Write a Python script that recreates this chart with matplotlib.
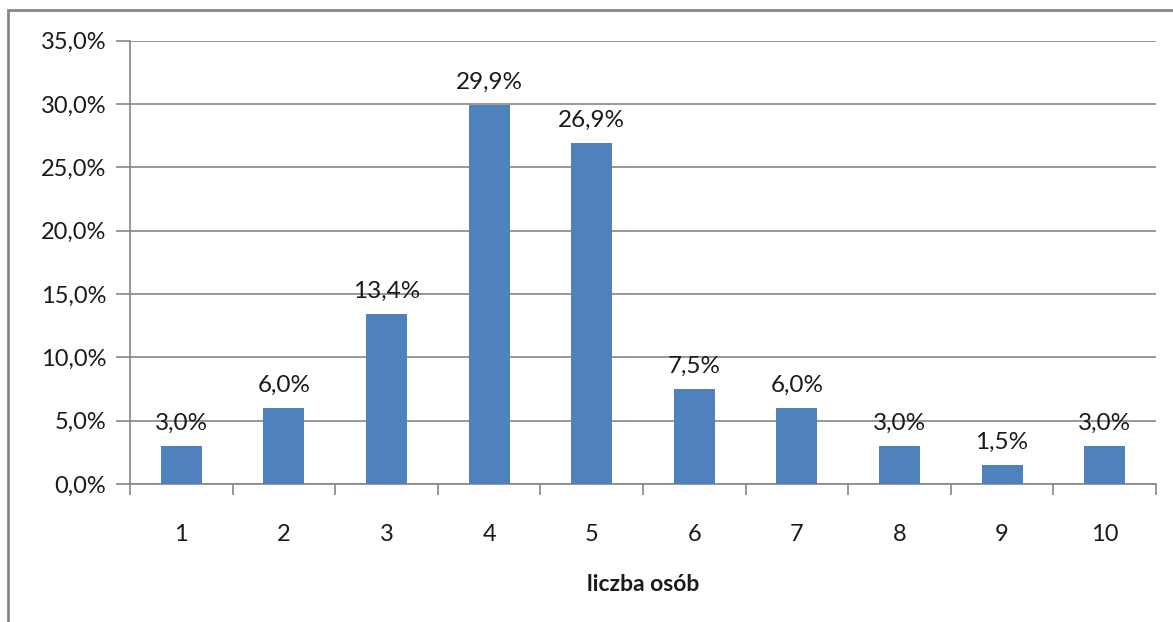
import matplotlib
matplotlib.use("Agg")
import matplotlib.pyplot as plt
from matplotlib.ticker import FuncFormatter, MultipleLocator, FixedLocator
from matplotlib.patches import Rectangle

categories = ['1', '2', '3', '4', '5', '6', '7', '8', '9', '10']
values = [3.0, 6.0, 13.4, 29.9, 26.9, 7.5, 6.0, 3.0, 1.5, 3.0]
xlabel = 'liczba osób'

plt.rcParams['font.family'] = ['Lato', 'DejaVu Sans']
grey = '#868686'
bar_color = '#4F81BD'
txt = '#1a1a1a'

fig = plt.figure(figsize=(11.73, 6.22), dpi=100)
ax = fig.add_axes([130 / 1173, 1 - 484 / 622, 1026 / 1173, 443.5 / 622])

x = list(range(len(categories)))
bars = ax.bar(x, values, width=0.4, color=bar_color, zorder=3)

ax.set_xlim(-0.5, len(categories) - 0.5)
ax.set_ylim(0, 35)
ax.yaxis.set_major_locator(MultipleLocator(5))
ax.yaxis.set_major_formatter(FuncFormatter(lambda v, p: f'{v:.1f}%'.replace('.', ',')))
ax.grid(axis='y', color=grey, linewidth=1.2, zorder=0)

# category boundaries get the tick marks, labels sit in the middle
ax.xaxis.set_major_locator(FixedLocator([i - 0.5 for i in range(len(categories) + 1)]))
ax.xaxis.set_major_formatter(FuncFormatter(lambda v, p: ''))
ax.xaxis.set_minor_locator(FixedLocator(x))
ax.set_xticklabels(categories, minor=True)
ax.tick_params(axis='x', which='major', length=8, color=grey, width=1.2)
ax.tick_params(axis='x', which='minor', length=0, pad=29, labelsize=17, labelcolor=txt)
ax.tick_params(axis='y', length=10, color=grey, width=1.2, pad=7, labelsize=17, labelcolor=txt)

for s in ['top', 'right']:
    ax.spines[s].set_visible(False)
for s in ['left', 'bottom']:
    ax.spines[s].set_color(grey)
    ax.spines[s].set_linewidth(1.2)

for b, v in zip(bars, values):
    ax.annotate(f'{v:.1f}%'.replace('.', ','), (b.get_x() + b.get_width() / 2, v),
                xytext=(0, 9), textcoords='offset points', ha='center', va='bottom',
                fontsize=17.5, color=txt)

ax.set_xlabel(xlabel, fontsize=16.5, fontweight='bold', labelpad=21, color=txt)

# outer chart border (runs off the right and bottom edge)
fig.patches.append(Rectangle((8 / 1173, -0.1), 1.2, 1 - 10 / 622 + 0.1,
                             transform=fig.transFigure, fill=False,
                             edgecolor=grey, linewidth=2))

fig.savefig('out.png', dpi=100)
